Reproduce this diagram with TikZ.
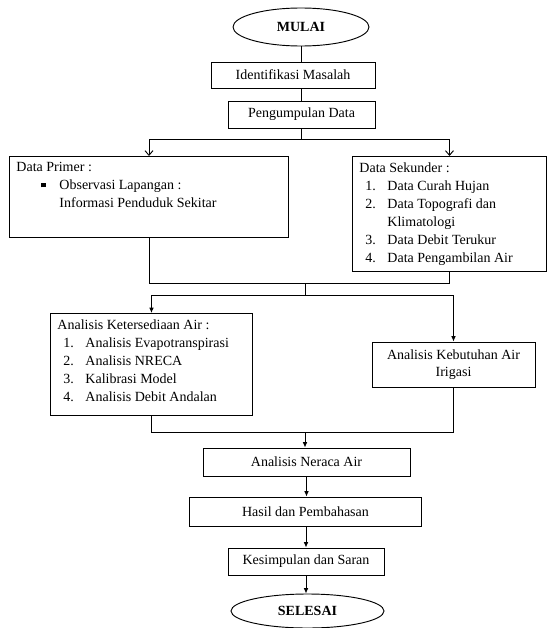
\documentclass[tikz,border=0pt]{standalone}
\usepackage{fontspec}
\setmainfont{Liberation Serif}
\usetikzlibrary{shapes.geometric,arrows.meta}

\newlength\pxu
\setlength\pxu{0.75pt}

% numbered line inside a list box
\newcommand\listline[2]{\hspace*{6\pxu}\makebox[22\pxu][l]{#1}#2}
\newcommand\sqbullet{\raisebox{1.7pt}{\rule{3.2pt}{3.2pt}}}

\tikzset{
    flowbox/.style={draw, line width=0.7pt, rectangle, inner sep=0pt, align=center,
        font=\fontsize{10.5}{13}\selectfont},
    listbox/.style={draw, line width=0.7pt, rectangle, anchor=north west,
        inner xsep=7\pxu, inner ysep=6\pxu, font=\fontsize{10.5}{13.5}\selectfont},
    terminal/.style={draw, line width=0.7pt, ellipse, inner sep=0pt,
        font=\fontsize{10.5}{13}\selectfont\bfseries},
    link/.style={line width=0.7pt},
    openarrow/.style={link, -{Straight Barb[length=3.5pt, width=6pt]}},
    fillarrow/.style={link, -{Latex[length=4pt, width=3.5pt]}}
}

\begin{document}
\begin{tikzpicture}[x=0.75pt, y=-0.75pt]
        \useasboundingbox (0,0) rectangle (549,628);

        % --- Start and data collection ---
        \node[terminal, minimum width=136\pxu, minimum height=38\pxu] (mulai) at (301,27) {MULAI};
        \node[flowbox, minimum width=164\pxu, minimum height=26\pxu] (ident) at (293,75) {Identifikasi Masalah};
        \node[flowbox, minimum width=147\pxu, minimum height=27\pxu] (kumpul) at (301.5,114.5) {Pengumpulan Data};

        \draw[link] (mulai.south) -- (mulai.south |- ident.north);
        \draw[link] (ident.south -| kumpul) -- (kumpul.north);

        % --- Primary and secondary data ---
        \node[listbox] (primer) at (9,156) {\parbox[t][69\pxu][t]{265\pxu}{%
            Data Primer :\\
            \hspace*{25\pxu}\makebox[18\pxu][l]{\sqbullet}Observasi Lapangan :\\
            \hspace*{43\pxu}Informasi Penduduk Sekitar}};
        \node[listbox] (sekunder) at (352,156) {\parbox[t][103\pxu][t]{180\pxu}{%
            Data Sekunder :\\
            \listline{1.}{Data Curah Hujan}\\
            \listline{2.}{Data Topografi dan}\\
            \hspace*{28\pxu}Klimatologi\\
            \listline{3.}{Data Debit Terukur}\\
            \listline{4.}{Data Pengambilan Air}}};

        \coordinate (split) at (301.5,139);
        \draw[link] (kumpul.south) -- (split);
        \draw[openarrow] (split) -| (primer.north);
        \draw[openarrow] (split) -| (sekunder.north);

        % --- Analysis ---
        \node[listbox] (sedia) at (50,313) {\parbox[t][90\pxu][t]{188\pxu}{%
            Analisis Ketersediaan Air :\\
            \listline{1.}{Analisis Evapotranspirasi}\\
            \listline{2.}{Analisis NRECA}\\
            \listline{3.}{Kalibrasi Model}\\
            \listline{4.}{Analisis Debit Andalan}}};
        \node[flowbox, minimum width=163\pxu, minimum height=45\pxu] (butuh) at (453.5,364.5)
            {Analisis Kebutuhan Air\\Irigasi};

        \coordinate (merge1) at (305,283);
        \coordinate (split2) at (305,295);
        \draw[link] (primer.south) |- (sekunder.south |- merge1) -- (sekunder.south);
        \draw[link] (merge1) -- (split2);
        \draw[fillarrow] (split2) -| (sedia.north);
        \draw[fillarrow] (split2) -| (butuh.north);

        % --- Balance, results and end ---
        \node[flowbox, minimum width=207\pxu, minimum height=28\pxu] (neraca) at (306.5,462) {Analisis Neraca Air};
        \node[flowbox, minimum width=232\pxu, minimum height=29\pxu] (hasil) at (305.5,511.5) {Hasil dan Pembahasan};
        \node[flowbox, minimum width=156\pxu, minimum height=27\pxu] (simpul) at (306,561.5) {Kesimpulan dan Saran};
        \node[terminal, minimum width=153\pxu, minimum height=34\pxu] (selesai) at (307.5,611) {SELESAI};

        \coordinate (merge2) at (305,432);
        \draw[link] (sedia.south) |- (merge2);
        \draw[link] (butuh.south) |- (merge2);
        \draw[fillarrow] (merge2) -- (merge2 |- neraca.north);
        \draw[fillarrow] (neraca.south) -- (neraca.south |- hasil.north);
        \draw[fillarrow] (hasil.south -| simpul) -- (simpul.north);
        \draw[fillarrow] (simpul.south) -- (simpul.south |- selesai.north);

\end{tikzpicture}
\end{document}
